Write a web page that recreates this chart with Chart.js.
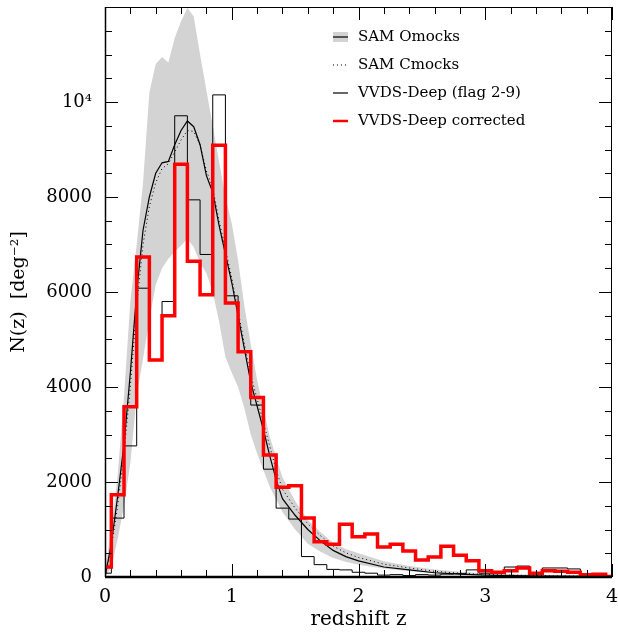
<!DOCTYPE html>
<html>
<head>
<meta charset="utf-8">
<script src="https://cdn.jsdelivr.net/npm/chart.js"></script>
<style>
  html, body { margin: 0; padding: 0; background: #fff; }
  #wrap { width: 618px; height: 632px; }
</style>
</head>
<body>
<div id="wrap"><canvas id="nzChart" width="618" height="632"></canvas></div>
<script>
// histogram bins (centres, width 0.1)
const zBins = [0.0, 0.1, 0.2, 0.3, 0.4, 0.5, 0.6, 0.7, 0.8, 0.9, 1.0, 1.1, 1.2, 1.3, 1.4, 1.5, 1.6, 1.7, 1.8, 1.9,
               2.0, 2.1, 2.2, 2.3, 2.4, 2.5, 2.6, 2.7, 2.8, 2.9, 3.0, 3.1, 3.2, 3.3, 3.4, 3.5, 3.6, 3.7, 3.8, 3.9, 4.0];
const nCorrected = [210, 1730, 3585, 6737, 4570, 5500, 8690, 6650, 5940, 9090, 5770, 4740, 3780, 2570, 1890, 1920, 1240, 740, 690, 1110,
                    850, 905, 630, 690, 550, 360, 420, 650, 460, 340, 130, 100, 130, 190, 80, 130, 120, 100, 50, 60, 10];
const nFlag29 = [80, 1240, 2760, 6080, 4570, 5800, 9710, 7940, 6790, 10150, 5920, 4740, 3620, 2270, 1450, 1220, 430, 260, 160, 150,
                 100, 80, 40, 50, 30, 50, 40, 60, 70, 150, 80, 80, 210, 230, 80, 190, 190, 170, 40, 20, 10];

// mock curves
const zCurve = [0, 0.05, 0.1, 0.15, 0.2, 0.25, 0.3, 0.35, 0.4, 0.45, 0.5, 0.55, 0.6, 0.65, 0.7, 0.75, 0.8, 0.85, 0.9, 0.95,
                1.0, 1.05, 1.1, 1.15, 1.2, 1.25, 1.3, 1.35, 1.4, 1.5, 1.6, 1.7, 1.8, 1.9, 2.0, 2.2, 2.4, 2.6, 2.8, 3.0, 3.2, 3.5, 4.0];
const nOmocks = [0, 700, 1700, 2800, 4300, 6000, 7300, 8000, 8500, 8720, 8750, 9100, 9400, 9600, 9480, 9100, 8450, 8100, 7400, 6800,
                 6200, 5500, 4800, 4100, 3600, 3100, 2550, 2050, 1650, 1300, 1000, 760, 560, 430, 340, 210, 150, 90, 60, 40, 30, 20, 10];
const nCmocks = [0, 600, 1500, 2600, 4000, 5700, 7000, 7800, 8300, 8600, 8700, 8950, 9200, 9400, 9380, 9100, 8550, 8200, 7500, 6900,
                 6300, 5600, 4900, 4250, 3750, 3250, 2750, 2250, 1850, 1450, 1120, 870, 650, 510, 410, 270, 190, 120, 80, 55, 40, 25, 12];

// Omocks spread
const zBand = [0, 0.05, 0.1, 0.15, 0.2, 0.25, 0.3, 0.35, 0.4, 0.45, 0.5, 0.55, 0.6, 0.65, 0.7, 0.75, 0.8, 0.85, 0.9, 0.95,
               1.0, 1.05, 1.1, 1.15, 1.2, 1.3, 1.4, 1.5, 1.6, 1.7, 1.8, 1.9, 2.0, 2.2, 2.4, 2.6, 2.8, 3.0, 3.3, 3.6, 4.0];
const bandHigh = [150, 1000, 2150, 3800, 5800, 7000, 8300, 10200, 10800, 10950, 10830, 11350, 11700, 11980, 11800, 11000, 10250, 9500, 8750, 8000,
                  7450, 6670, 5700, 4900, 4150, 2950, 2100, 1600, 1200, 950, 720, 590, 500, 330, 230, 160, 110, 80, 55, 40, 25];
const bandLow = [0, 200, 800, 1500, 2400, 3800, 4600, 5400, 6150, 6500, 6700, 6850, 6980, 7120, 6950, 6610, 6400, 6000, 5380, 4630,
                 4300, 4000, 3550, 3000, 2600, 1900, 1370, 1000, 700, 530, 400, 320, 260, 180, 120, 80, 55, 40, 25, 15, 5];

const xTicks = [0, 1, 2, 3, 4];
const yTicks = [0, 2000, 4000, 6000, 8000, 10000];

const legendItems = [
    { label: 'SAM Omocks', kind: 'band' },
    { label: 'SAM Cmocks', kind: 'dot' },
    { label: 'VVDS-Deep (flag 2-9)', kind: 'line' },
    { label: 'VVDS-Deep corrected', kind: 'red' }
];

const serif = '"DejaVu Serif", "Liberation Serif", serif';

function xy(xs, ys) {
    return xs.map((x, i) => ({ x: x, y: ys[i] }));
}

// one point on the left edge of each bin, plus the closing edge
function histSteps(centres, values) {
    const pts = centres.map((c, i) => ({ x: i === 0 ? 0 : Math.round((c - 0.05) * 100) / 100, y: values[i] }));
    pts.push({ x: 4, y: values[values.length - 1] });
    return pts;
}

// frame with inward ticks on every side
const framePlugin = {
    id: 'frame',
    afterDraw(chart) {
        const { ctx, chartArea: a, scales } = chart;
        const x = scales.x, y = scales.y;
        ctx.save();
        ctx.strokeStyle = '#000';
        ctx.lineWidth = 1;
        ctx.strokeRect(a.left + 0.5, a.top + 0.5, a.right - a.left - 1, a.bottom - a.top);
        ctx.beginPath();
        for (let i = 0; i <= 20; i++) {
            const px = Math.round(x.getPixelForValue(i * 0.2)) + 0.5;
            const len = i % 5 === 0 ? 13 : 7;
            ctx.moveTo(px, a.bottom); ctx.lineTo(px, a.bottom - len);
            ctx.moveTo(px, a.top); ctx.lineTo(px, a.top + len);
        }
        for (let i = 0; i <= 24; i++) {
            const py = Math.round(y.getPixelForValue(i * 500)) + 0.5;
            const len = i % 4 === 0 ? 13 : 7;
            ctx.moveTo(a.left, py); ctx.lineTo(a.left + len, py);
            ctx.moveTo(a.right, py); ctx.lineTo(a.right - len, py);
        }
        ctx.stroke();
        ctx.lineWidth = 2.5;
        ctx.beginPath();
        ctx.moveTo(a.left, a.bottom); ctx.lineTo(a.right, a.bottom);
        ctx.stroke();
        ctx.lineWidth = 1.5;
        ctx.beginPath();
        ctx.moveTo(a.left + 0.5, a.top); ctx.lineTo(a.left + 0.5, a.bottom);
        ctx.stroke();
        ctx.restore();
    }
};

const legendPlugin = {
    id: 'boxLegend',
    afterDraw(chart) {
        const ctx = chart.ctx;
        const x0 = 333, x1 = 348, tx = 358;
        ctx.save();
        ctx.font = '15px ' + serif;
        ctx.textBaseline = 'middle';
        legendItems.forEach((item, i) => {
            const yy = 37 + i * 28;
            ctx.setLineDash([]);
            ctx.strokeStyle = '#000';
            ctx.lineWidth = 1.2;
            if (item.kind === 'band') {
                ctx.fillStyle = '#d3d3d3';
                ctx.fillRect(x0, yy - 5, x1 - x0, 10);
            } else if (item.kind === 'dot') {
                ctx.lineWidth = 1;
                ctx.setLineDash([1, 3]);
            } else if (item.kind === 'red') {
                ctx.strokeStyle = '#ff0000';
                ctx.lineWidth = 2.5;
            }
            ctx.beginPath();
            ctx.moveTo(x0, yy); ctx.lineTo(x1, yy);
            ctx.stroke();
            ctx.setLineDash([]);
            ctx.fillStyle = '#000';
            ctx.fillText(item.label, tx, yy);
        });
        ctx.restore();
    }
};

document.addEventListener('DOMContentLoaded', function() {
    const ctx = document.getElementById('nzChart').getContext('2d');
    const nzChart = new Chart(ctx, {
        type: 'line',
        data: {
            datasets: [
                {
                    label: 'VVDS-Deep corrected',
                    data: histSteps(zBins, nCorrected),
                    stepped: 'before',
                    borderColor: '#ff0000',
                    borderWidth: 3.5,
                    pointRadius: 0,
                    fill: false,
                    order: 0
                },
                {
                    label: 'VVDS-Deep (flag 2-9)',
                    data: histSteps(zBins, nFlag29),
                    stepped: 'before',
                    borderColor: '#000',
                    borderWidth: 1,
                    pointRadius: 0,
                    fill: false,
                    order: 1
                },
                {
                    label: 'SAM Omocks',
                    data: xy(zCurve, nOmocks),
                    borderColor: '#000',
                    borderWidth: 1.2,
                    pointRadius: 0,
                    tension: 0,
                    fill: false,
                    order: 2
                },
                {
                    label: 'SAM Cmocks',
                    data: xy(zCurve, nCmocks),
                    borderColor: '#000',
                    borderWidth: 1,
                    borderDash: [1, 3],
                    pointRadius: 0,
                    tension: 0,
                    fill: false,
                    order: 3
                },
                {
                    label: 'band high',
                    data: xy(zBand, bandHigh),
                    borderWidth: 0,
                    borderColor: 'rgba(0,0,0,0)',
                    backgroundColor: '#d3d3d3',
                    pointRadius: 0,
                    fill: '+1',
                    order: 4
                },
                {
                    label: 'band low',
                    data: xy(zBand, bandLow),
                    borderWidth: 0,
                    borderColor: 'rgba(0,0,0,0)',
                    pointRadius: 0,
                    fill: false,
                    order: 5
                }
            ]
        },
        options: {
            responsive: false,
            animation: false,
            layout: { padding: { left: 0, right: 6, top: 7, bottom: 0 } },
            plugins: {
                legend: { display: false },
                tooltip: { enabled: false }
            },
            scales: {
                x: {
                    type: 'linear',
                    min: 0,
                    max: 4,
                    grid: { display: false, drawTicks: false },
                    border: { display: false },
                    afterFit: function(scale) {
                        scale.height = 55;
                        scale.paddingLeft = 0;
                        scale.paddingRight = 0;
                    },
                    afterBuildTicks: function(scale) { scale.ticks = xTicks.map(v => ({ value: v })); },
                    ticks: {
                        padding: 9,
                        color: '#000',
                        font: { family: serif, size: 19 },
                        maxRotation: 0,
                        callback: v => String(v)
                    },
                    title: {
                        display: true,
                        text: 'redshift z',
                        color: '#000',
                        font: { family: serif, size: 20 },
                        padding: { top: 0, bottom: 0 }
                    }
                },
                y: {
                    type: 'linear',
                    min: 0,
                    max: 12000,
                    grid: { display: false, drawTicks: false },
                    border: { display: false },
                    afterFit: function(scale) {
                        scale.width = 105;
                        scale.paddingTop = 0;
                        scale.paddingBottom = 0;
                    },
                    afterBuildTicks: function(scale) { scale.ticks = yTicks.map(v => ({ value: v })); },
                    ticks: {
                        padding: 13,
                        color: '#000',
                        font: { family: serif, size: 18 },
                        callback: v => v === 10000 ? '10\u2074' : String(v)
                    },
                    title: {
                        display: true,
                        text: 'N(z)  [deg\u207b\u00b2]',
                        color: '#000',
                        font: { family: serif, size: 19 },
                        padding: { top: 8, bottom: 0 }
                    }
                }
            }
        },
        plugins: [framePlugin, legendPlugin]
    });
});
</script>
</body>
</html>
